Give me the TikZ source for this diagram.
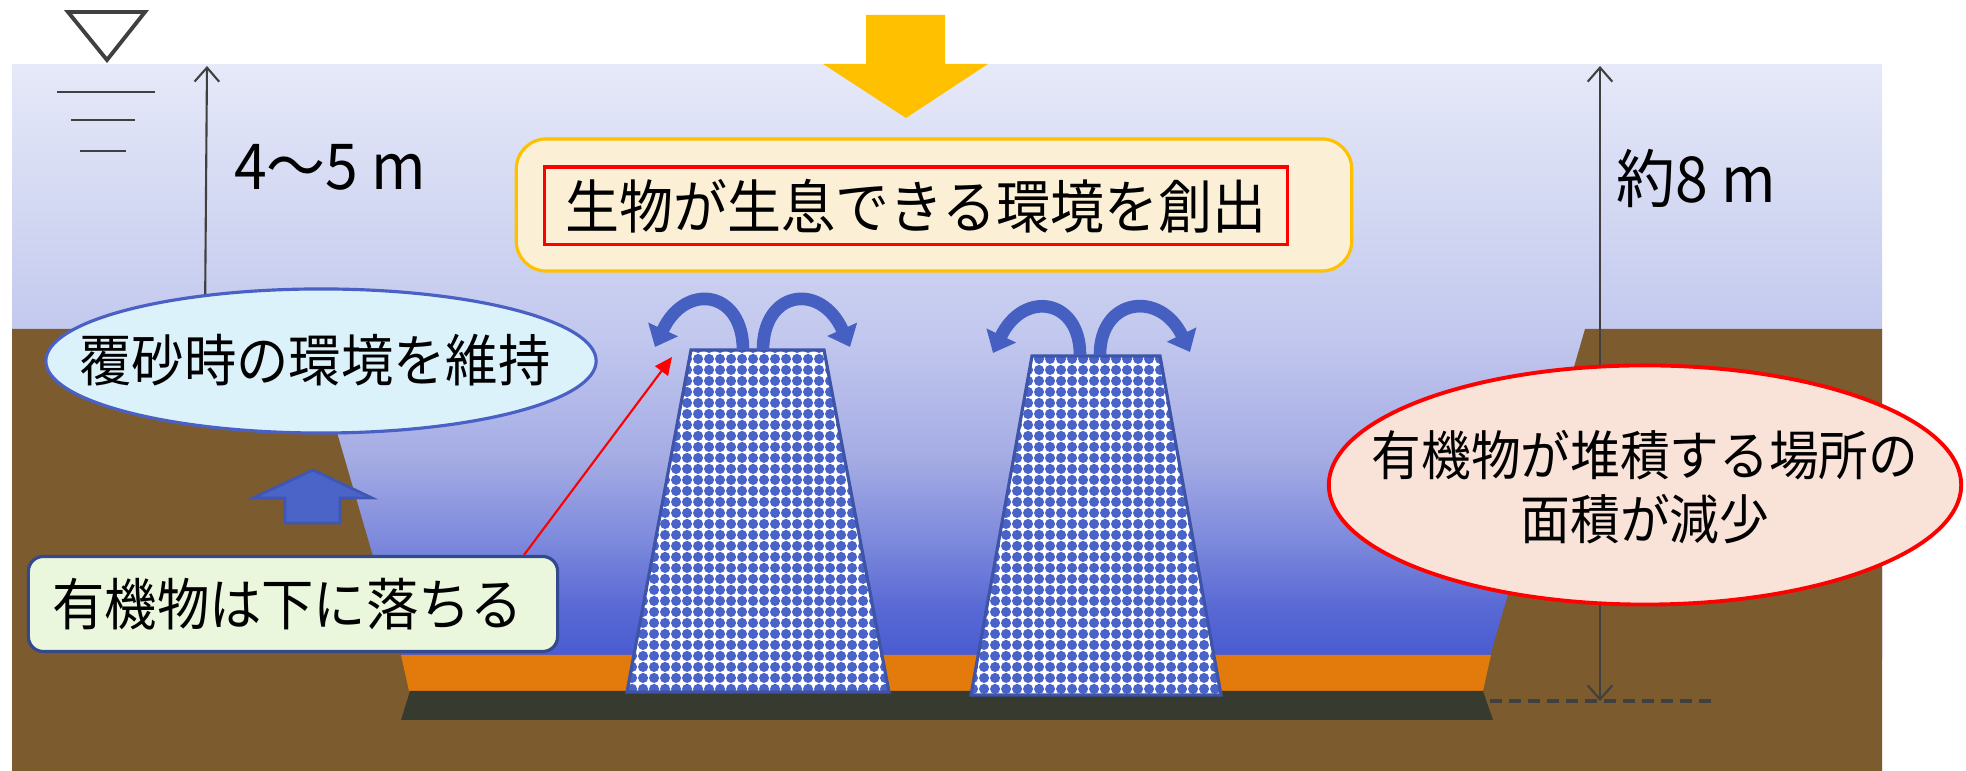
\documentclass[tikz,border=0pt]{standalone}
\usepackage{fontspec}
\newfontfamily\jp[FakeStretch=0.93]{Noto Sans CJK JP}
\usetikzlibrary{arrows.meta,shapes.geometric,patterns}

\definecolor{ground}{HTML}{7C5B2E}
\definecolor{sand}{HTML}{E27B0B}
\definecolor{mud}{HTML}{373A2F}
\definecolor{wtop}{HTML}{E6E9F8}
\definecolor{w4}{HTML}{C3C9EE}
\definecolor{w3}{HTML}{A5ACE4}
\definecolor{w2}{HTML}{7D89DC}
\definecolor{w1}{HTML}{5868D4}
\definecolor{wbot}{HTML}{485AD0}
\definecolor{pebble}{HTML}{4A63C8}
\definecolor{blockedge}{HTML}{3D54A8}
\definecolor{flowblue}{HTML}{4660C2}
\definecolor{upblue}{HTML}{4B64C8}
\definecolor{upedge}{HTML}{3F56B2}
\definecolor{gold}{HTML}{FFC000}
\definecolor{cream}{HTML}{FBF0D6}
\definecolor{skyfill}{HTML}{DCF2FA}
\definecolor{skyedge}{HTML}{4A60C4}
\definecolor{leaf}{HTML}{EBF7DC}
\definecolor{leafedge}{HTML}{33498F}
\definecolor{peach}{HTML}{F9E3D8}
\definecolor{dimgray}{HTML}{404040}

% water gets darker towards the bed
\pgfdeclareverticalshading{seawater}{100bp}{color(0bp)=(wbot); color(25bp)=(wbot);
  color(29.2bp)=(w1); color(35bp)=(w2); color(42bp)=(w3); color(52.7bp)=(w4);
  color(75bp)=(wtop); color(100bp)=(wtop)}

% concrete block surface
\pgfdeclarepatternformonly{pebbles}{\pgfqpoint{0pt}{0pt}}{\pgfqpoint{3.13pt}{3.13pt}}%
  {\pgfqpoint{3.13pt}{3.13pt}}{%
  \pgfpathcircle{\pgfqpoint{1.565pt}{1.565pt}}{1.56pt}\pgfusepath{fill}}

\begin{document}
\begin{tikzpicture}
  [x=0.01cm,y=-0.01cm,
   every node/.style={font=\jp},
   dim/.style={draw=dimgray,line width=0.6pt},
   barb/.tip={Straight Barb[length=4pt,width=7pt]},
   flow/.style={draw=flowblue,line width=3.6pt,-{Triangle[width=9pt,length=5.5pt]}},
   block/.style={draw=blockedge,line width=0.9pt,preaction={fill=white},
     pattern=pebbles,pattern color=pebble},
   txtbig/.style={font=\jp\fontsize{16.5}{20}\selectfont},
   txtmid/.style={font=\jp\fontsize{16}{19}\selectfont},
   txtdim/.style={font=\jp\fontsize{18}{21}\selectfont},
   txtsmall/.style={font=\jp\fontsize{15.2}{18.2}\selectfont}]
  \useasboundingbox (0,0) rectangle (1966,771);

  % water, ground and bed layers
  \shade[shading=seawater] (12,65) rectangle (1882,660);
  \fill[ground] (12,329) -- (307,329) -- (403,660) -- (1489,660) -- (1585,329)
    -- (1882,329) -- (1882,771) -- (12,771) -- cycle;
  \fill[sand] (401,655) -- (1491,655) -- (1483,691) -- (409,691) -- cycle;
  \fill[mud] (410,691) -- (1483,691) -- (1493,720) -- (401,720) -- cycle;
  \coordinate (dasha) at (1490,701);
  \coordinate (dashb) at (1712,701);
  \draw[draw=dimgray,line width=1pt,dash pattern=on 3.4pt off 2pt] (dasha) -- (dashb);

  % blocks
  \draw[block] (691,350) -- (824,350) -- (889,692) -- (627,692) -- cycle;
  \draw[block] (1032,356) -- (1160,356) -- (1221,695) -- (971,695) -- cycle;

  % flow over the blocks
  \draw[flow] (743,350) .. controls (743,290) and (685,282) .. (655,347);
  \draw[flow] (763,350) .. controls (763,290) and (821,282) .. (850,347);
  \draw[flow] (1080,355) .. controls (1080,298) and (1023,290) .. (993,353);
  \draw[flow] (1100,355) .. controls (1100,298) and (1160,290) .. (1190,352);

  % water surface mark
  \draw[dimgray,line width=1.1pt] (68,12) -- (145,12) -- (107,60) -- cycle;
  \draw[dimgray,line width=0.6pt] (57,92) -- (155,92);
  \draw[dimgray,line width=0.6pt] (71,120) -- (135,120);
  \draw[dimgray,line width=0.6pt] (80,151) -- (126,151);

  % depth on the right
  \coordinate (top2) at (1600,66);
  \coordinate (bot2) at (1600,701);
  \draw[dim,barb-barb] (bot2) -- (top2);
  \node[txtdim] (depth2) at (1696,178) {約8 m};

  % sinking arrow and goal
  \fill[gold] (866,15) -- (945,15) -- (945,64) -- (988,64) -- (906,118)
    -- (823,64) -- (866,64) -- cycle;
  \node[draw=gold,fill=cream,line width=0.9pt,rounded corners=0.3cm,
    minimum width=8.35cm,minimum height=1.32cm] (goal) at (934,205) {};
  \node[draw=red,line width=1pt,minimum width=7.43cm,minimum height=0.77cm,
    txtbig] (goaltxt) at (916,206) {生物が生息できる環境を創出};

  % left side
  \node[ellipse,draw=skyedge,fill=skyfill,line width=0.9pt,inner sep=0pt,
    minimum width=5.5cm,minimum height=1.44cm] (keep) at (321,361) {};
  \node[txtmid] (keeptxt) at (315,360) {覆砂時の環境を維持};
  \coordinate (top1) at (207,66);
  \draw[dim,-barb] (keep.150) -- (top1);
  \node[txtdim] (depth1) at (330,167) {4～5 m};

  \filldraw[fill=upblue,draw=upedge,line width=0.8pt] (313,470) -- (372,498)
    -- (340,498) -- (340,523) -- (285,523) -- (285,498) -- (253,498) -- cycle;

  \node[draw=leafedge,fill=leaf,line width=0.9pt,rounded corners=0.15cm,
    minimum width=5.29cm,minimum height=0.95cm,text width=4.81cm,align=left,
    inner xsep=0.24cm,font=\jp\fontsize{16}{19}\selectfont] (fall) at (293,604)
    {有機物は下に落ちる};
  \coordinate (edge) at (672,357);
  \draw[red,line width=0.6pt,-{Triangle[length=5pt,width=4.5pt]}] (fall.12) -- (edge);

  % right side
  \node[ellipse,draw=red,fill=peach,line width=1.1pt,inner sep=0pt,
    minimum width=6.32cm,minimum height=2.39cm] (less) at (1645,485) {};
  \node[txtsmall,align=center] (lesstxt) at (1645,487)
    {有機物が堆積する場所の\\面積が減少};
\end{tikzpicture}
\end{document}
